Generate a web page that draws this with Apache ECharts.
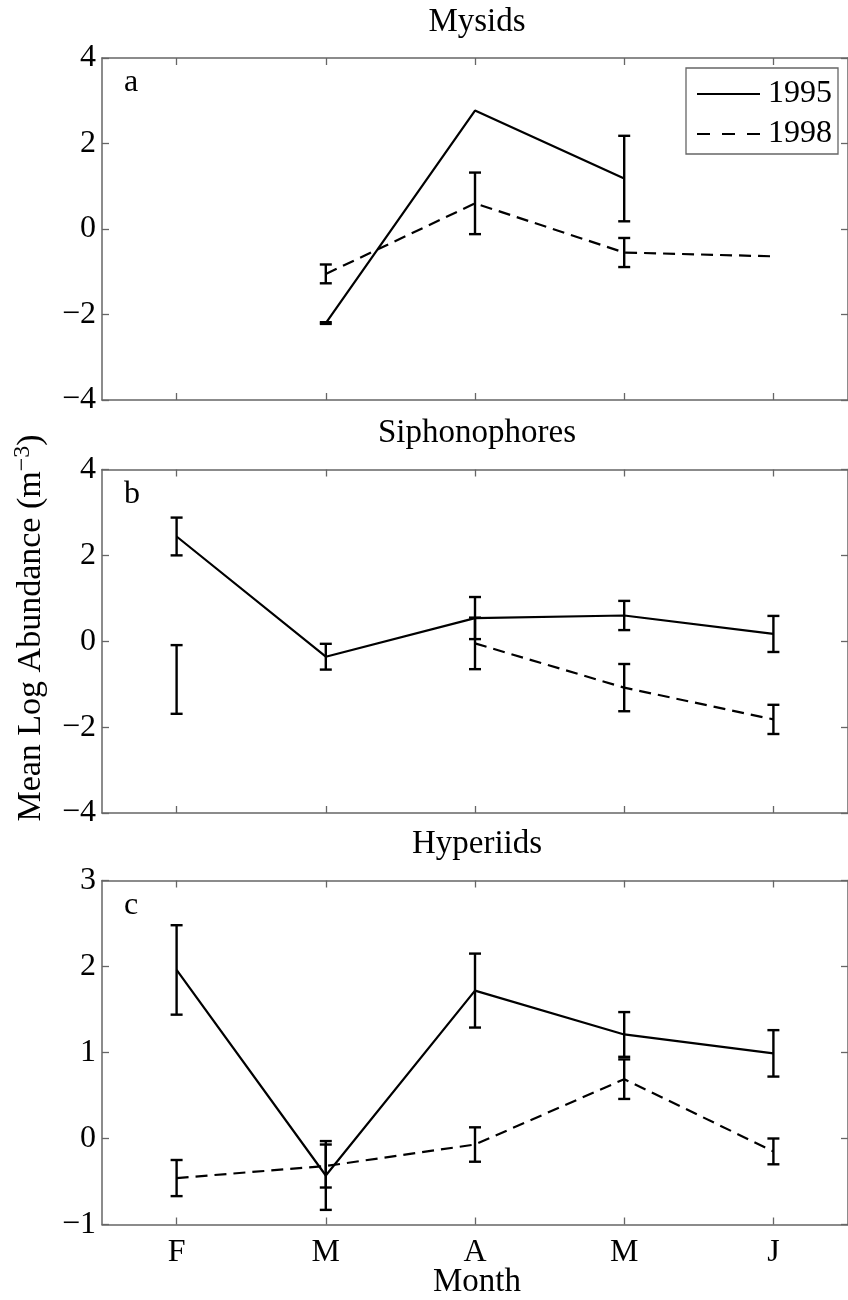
<!DOCTYPE html>
<html>
<head>
<meta charset="utf-8">
<script src="https://cdn.jsdelivr.net/npm/echarts@6/dist/echarts.min.js"></script>
<style>
  html, body { margin: 0; padding: 0; background: #fff; }
  #chart { width: 848px; height: 1300px; }
</style>
</head>
<body>
<div id="chart"></div>
<script>
var months = ['F', 'M', 'A', 'M', 'J'];
var panelTitles = ['Mysids', 'Siphonophores', 'Hyperiids'];
var panelLetters = ['a', 'b', 'c'];

// Mysids
var mys95 = [null, -2.2, 2.77, 1.18, null];
var mys95Err = [null, 0.02, null, 1.0, null];
var mys98 = [null, -1.05, 0.6, -0.55, -0.64];
var mys98Err = [null, 0.22, 0.72, 0.34, null];

// Siphonophores
var sip95 = [2.44, -0.36, 0.54, 0.6, 0.17];
var sip95Err = [0.44, 0.3, 0.49, 0.34, 0.42];
var sip98 = [-0.89, null, -0.05, -1.08, -1.82];
var sip98Err = [0.8, null, 0.6, 0.55, 0.34];

// Hyperiids
var hyp95 = [1.96, -0.43, 1.72, 1.21, 0.99];
var hyp95Err = [0.52, 0.4, 0.43, 0.26, 0.27];
var hyp98 = [-0.46, -0.32, -0.07, 0.69, -0.15];
var hyp98Err = [0.21, 0.25, 0.2, 0.23, 0.15];

var yMin = [-4, -4, -1];
var yMax = [4, 4, 3];
var yStep = [2, 2, 1];

var myChart = echarts.init(document.getElementById('chart'));
var FONT = 'Liberation Serif';
var frameColor = '#666';
var grids = [
  { left: 102, top: 58, width: 750, height: 342 },
  { left: 102, top: 469.5, width: 750, height: 343.5 },
  { left: 102, top: 880.5, width: 750, height: 344 }
];

function errData(mean, err) {
  var out = [];
  for (var i = 0; i < mean.length; i++) {
    if (mean[i] != null && err[i] != null) {
      out.push([i, mean[i] - err[i], mean[i] + err[i]]);
    }
  }
  return out;
}

function renderErr(params, api) {
  var lo = api.coord([api.value(0), api.value(1)]);
  var hi = api.coord([api.value(0), api.value(2)]);
  var half = 6;
  var style = { stroke: '#000', lineWidth: 2.4 };
  return {
    type: 'group',
    children: [
      { type: 'line', shape: { x1: lo[0], y1: lo[1], x2: hi[0], y2: hi[1] }, style: style },
      { type: 'line', shape: { x1: lo[0] - half, y1: lo[1], x2: lo[0] + half, y2: lo[1] }, style: style },
      { type: 'line', shape: { x1: hi[0] - half, y1: hi[1], x2: hi[0] + half, y2: hi[1] }, style: style }
    ]
  };
}

var xAxes = [], yAxes = [], series = [], graphics = [];
var sets = [
  [mys95, mys95Err, mys98, mys98Err],
  [sip95, sip95Err, sip98, sip98Err],
  [hyp95, hyp95Err, hyp98, hyp98Err]
];

for (var g = 0; g < 3; g++) {
  var axisLine = { show: true, onZero: false, lineStyle: { color: frameColor, width: 1.5 } };
  var tick = { show: true, inside: true, length: 7, alignWithLabel: true, lineStyle: { color: frameColor, width: 1.3 } };
  xAxes.push({
    type: 'category', gridIndex: g, data: months, position: 'bottom', boundaryGap: true,
    axisLine: axisLine, axisTick: tick,
    axisLabel: { show: g === 2, color: '#000', fontFamily: FONT, fontSize: 32, margin: 12 },
    splitLine: { show: false }
  });
  xAxes.push({
    type: 'category', gridIndex: g, data: months, position: 'top', boundaryGap: true,
    axisLine: axisLine, axisTick: tick, axisLabel: { show: false }, splitLine: { show: false }
  });
  var yTick = { show: true, inside: true, length: 7, lineStyle: { color: frameColor, width: 1.3 } };
  yAxes.push({
    type: 'value', gridIndex: g, position: 'left', min: yMin[g], max: yMax[g], interval: yStep[g],
    axisLine: axisLine, axisTick: yTick, splitLine: { show: false },
    axisLabel: {
      color: '#000', fontFamily: FONT, fontSize: 32, margin: 6,
      formatter: function (v) { return String(v).replace('-', '\u2212'); }
    }
  });
  yAxes.push({
    type: 'value', gridIndex: g, position: 'right', min: yMin[g], max: yMax[g], interval: yStep[g],
    axisLine: axisLine, axisTick: yTick, splitLine: { show: false }, axisLabel: { show: false }
  });

  var d = sets[g];
  series.push({
    name: '1995', type: 'line', xAxisIndex: 2 * g, yAxisIndex: 2 * g, data: d[0],
    symbol: 'none', connectNulls: false, lineStyle: { color: '#000', width: 2.2, type: 'solid' },
    itemStyle: { color: '#000' }, z: 3
  });
  series.push({
    name: '1998', type: 'line', xAxisIndex: 2 * g, yAxisIndex: 2 * g, data: d[2],
    symbol: 'none', connectNulls: false, lineStyle: { color: '#000', width: 2.2, type: [12, 7] },
    itemStyle: { color: '#000' }, z: 3
  });
  series.push({
    type: 'custom', xAxisIndex: 2 * g, yAxisIndex: 2 * g, renderItem: renderErr,
    data: errData(d[0], d[1]), encode: { x: 0, y: [1, 2] }, z: 4, silent: true
  });
  series.push({
    type: 'custom', xAxisIndex: 2 * g, yAxisIndex: 2 * g, renderItem: renderErr,
    data: errData(d[2], d[3]), encode: { x: 0, y: [1, 2] }, z: 4, silent: true
  });

  graphics.push({
    type: 'text', x: 477, y: grids[g].top - 36,
    style: { text: panelTitles[g], font: '33px "' + FONT + '"', fill: '#000', textAlign: 'center', textVerticalAlign: 'middle' }
  });
  graphics.push({
    type: 'text', x: 124, y: grids[g].top + 41,
    style: { text: panelLetters[g], font: '32px "' + FONT + '"', fill: '#000', textAlign: 'left', textVerticalAlign: 'bottom' }
  });
}

graphics.push({
  type: 'text', x: 477, y: 1282,
  style: { text: 'Month', font: '33px "' + FONT + '"', fill: '#000', textAlign: 'center', textVerticalAlign: 'middle' }
});
graphics.push({
  type: 'text', x: 31, y: 628, rotation: Math.PI / 2,
  style: {
    text: 'Mean Log Abundance (m{sup|\u22123})',
    font: '34px "' + FONT + '"', fill: '#000', textAlign: 'center', textVerticalAlign: 'middle',
    rich: { sup: { fontFamily: FONT, fontSize: 24, verticalAlign: 'top', padding: [0, 0, 16, 0] } }
  }
});

var option = {
  animation: false,
  backgroundColor: '#fff',
  grid: grids,
  xAxis: xAxes,
  yAxis: yAxes,
  legend: {
    data: [
      { name: '1995', icon: 'path://M0,0H63V2.2H0Z' },
      { name: '1998', icon: 'path://M0,0H13V2.2H0Z M25,0H38V2.2H25Z M50,0H63V2.2H50Z' }
    ],
    orient: 'vertical', left: 686, top: 68,
    itemWidth: 63, itemHeight: 2.2, itemGap: 6,
    padding: [9, 6, 3, 11],
    borderColor: frameColor, borderWidth: 1.3, borderRadius: 0,
    itemStyle: { color: '#000' },
    textStyle: { color: '#000', fontFamily: FONT, fontSize: 32, lineHeight: 34, padding: [0, 0, 0, 3] }
  },
  graphic: graphics,
  series: series
};
myChart.setOption(option);
</script>
</body>
</html>
